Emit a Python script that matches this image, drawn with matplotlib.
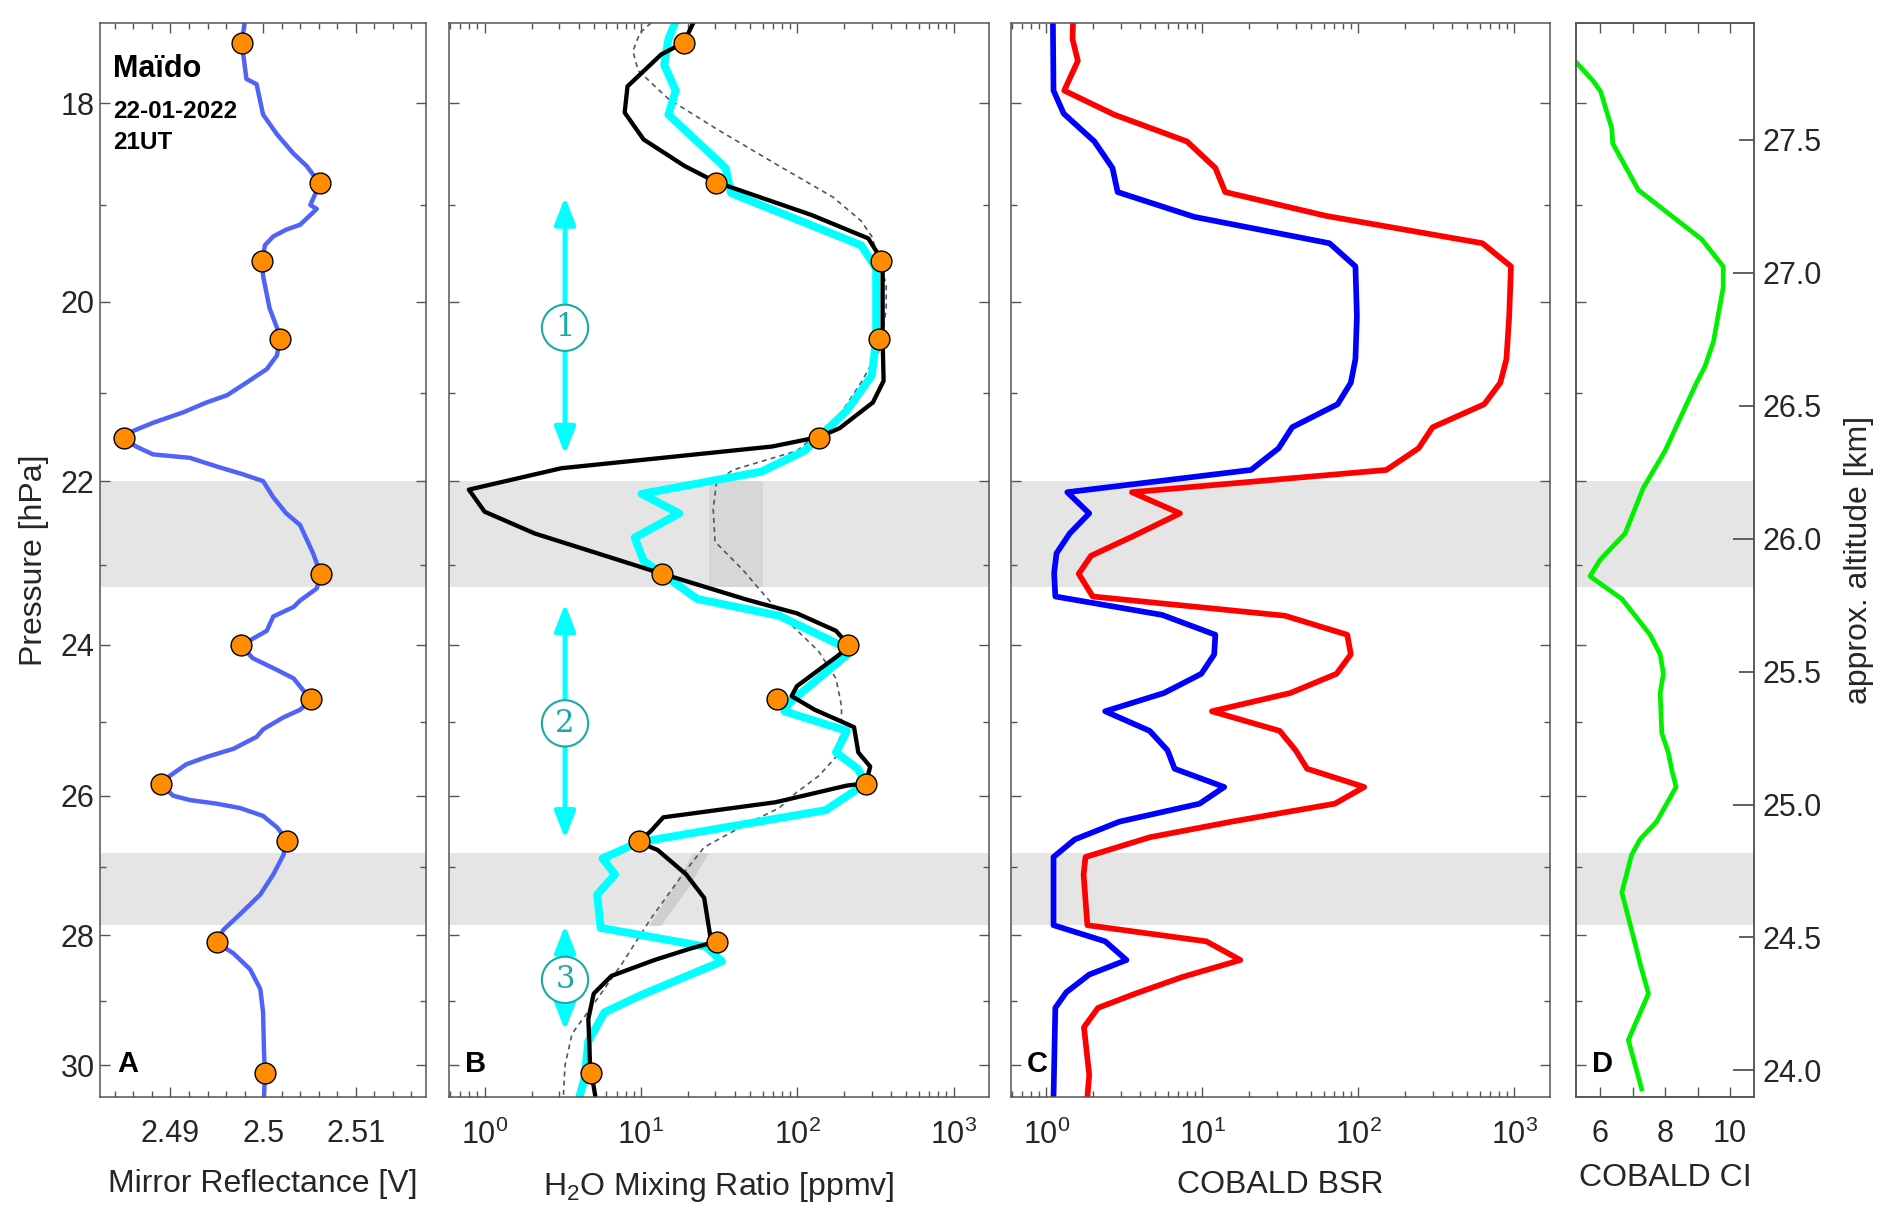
import matplotlib
matplotlib.use("Agg")
import matplotlib.pyplot as plt
from matplotlib.ticker import FixedLocator, NullFormatter, FormatStrFormatter, LogLocator, MultipleLocator, FuncFormatter

plt.rcParams['font.family'] = ['Liberation Sans', 'DejaVu Sans']
plt.rcParams['mathtext.fontset'] = 'custom'
plt.rcParams['mathtext.rm'] = 'Liberation Sans'

# pressure axis
p_major = [18, 20, 22, 24, 26, 28, 30]
p_minor = [19, 21, 23, 25, 27, 29]
bands = [(22.0, 23.27), (26.8, 27.85)]

# orange marker levels (same events in A and B)
mark_p = [17.43, 18.78, 19.57, 20.40, 21.50, 23.11, 24.00, 24.70, 25.84, 26.63, 28.10, 30.13]
mark_refl = [2.4977, 2.5061, 2.4999, 2.5018, 2.4850, 2.5062, 2.4976, 2.5052, 2.4890, 2.5026, 2.4950, 2.5002]
mark_h2o = [18.8, 30.2, 344, 334, 138.7, 13.7, 211, 74.6, 275, 9.71, 30.5, 4.78]

# panel A: mirror reflectance
refl_p = [17.25, 17.43, 17.77, 17.82, 18.11, 18.30, 18.49, 18.61, 18.72, 18.79, 19.00, 19.04, 19.20,
          19.25, 19.32, 19.41, 19.58, 19.73, 20.07, 20.28, 20.40, 20.58, 20.73, 20.88, 21.02, 21.10,
          21.21, 21.33, 21.42, 21.51, 21.60, 21.69, 21.73, 21.83, 21.92, 22.00, 22.19, 22.38, 22.52,
          22.86, 23.11, 23.29, 23.44, 23.52, 23.64, 23.82, 23.92, 24.01, 24.17, 24.32, 24.43, 24.58,
          24.70, 24.84, 24.94, 25.10, 25.20, 25.36, 25.47, 25.57, 25.73, 25.85, 26.00, 26.06, 26.11,
          26.17, 26.28, 26.44, 26.62, 26.83, 27.11, 27.40, 27.69, 27.92, 28.11, 28.27, 28.51, 28.81,
          29.17, 29.79, 30.14, 30.51]
refl_v = [2.4980, 2.4977, 2.4982, 2.4993, 2.5000, 2.5015, 2.5033, 2.5047, 2.5056, 2.5061, 2.5051, 2.5058, 2.5040,
          2.5025, 2.5011, 2.5002, 2.4999, 2.5000, 2.5007, 2.5015, 2.5018, 2.5015, 2.5004, 2.4982, 2.4961, 2.4939,
          2.4914, 2.4881, 2.4860, 2.4850, 2.4863, 2.4881, 2.4921, 2.4950, 2.4978, 2.5000, 2.5011, 2.5025, 2.5040,
          2.5054, 2.5062, 2.5058, 2.5040, 2.5033, 2.5011, 2.5004, 2.4989, 2.4976, 2.4989, 2.5015, 2.5033, 2.5043,
          2.5052, 2.5040, 2.5022, 2.5000, 2.4993, 2.4968, 2.4939, 2.4917, 2.4899, 2.4890, 2.4903, 2.4921, 2.4950,
          2.4975, 2.5000, 2.5015, 2.5026, 2.5022, 2.5011, 2.4997, 2.4975, 2.4957, 2.4950, 2.4968, 2.4986, 2.4997,
          2.5000, 2.5001, 2.5002, 2.5001]

# panel B: H2O mixing ratio
black_p = [17.20, 17.43, 17.54, 17.84, 18.09, 18.35, 18.61, 18.77, 19.10, 19.34, 19.47, 19.57, 20.41,
           20.86, 21.10, 21.39, 21.49, 21.60, 21.85, 22.10, 22.36, 22.62, 23.11, 23.43, 23.60, 23.82,
           23.99, 24.12, 24.53, 24.66, 24.84, 25.07, 25.41, 25.60, 25.83, 25.86, 26.09, 26.30, 26.49,
           26.65, 26.76, 27.11, 27.45, 28.04, 28.09, 28.20, 28.37, 28.61, 28.88, 29.27, 30.00, 30.51]
black_v = [22.5, 18.8, 13.5, 8.21, 7.87, 10.4, 19.0, 30.2, 122.9, 285, 320, 352, 352,
           357, 305, 187, 138.7, 68.9, 3.10, 0.793, 1.0, 2.09, 13.7, 47.7, 99.6, 177,
           211, 187, 99.6, 92, 129.5, 231, 246, 293, 275, 208, 72.7, 13.9, 11.6,
           9.71, 12.8, 19.5, 25.4, 27.9, 30.5, 20.6, 12.2, 6.48, 4.99, 4.61, 4.73, 5.12]
cyan_p = [17.25, 17.40, 17.64, 17.88, 18.11, 18.63, 18.88, 19.41, 19.65, 20.41, 20.80, 21.19, 21.49,
          21.65, 21.89, 22.15, 22.38, 22.67, 22.95, 23.11, 23.42, 23.63, 24.02, 24.09, 24.74, 24.86,
          25.12, 25.41, 25.63, 25.83, 26.20, 26.44, 26.65, 26.88, 27.11, 27.40, 27.89, 28.17, 28.39,
          28.91, 29.17, 29.62, 30.20, 30.51]
cyan_v = [16.5, 15.0, 14.1, 16.7, 15.0, 34.8, 37.7, 256, 320, 320, 300, 208, 138.7,
          111, 58.9, 10.1, 17.6, 9.12, 10.4, 13.7, 22.9, 76.6, 197, 219, 89.7, 82.8,
          208, 177, 244, 275, 152, 34.8, 9.7, 5.68, 6.83, 5.25, 5.53, 26.1, 33.0,
          9.87, 5.84, 4.61, 4.37, 4.04]
frost_p = [17.25, 17.34, 17.51, 17.69, 17.96, 18.26, 18.61, 18.92, 19.16, 19.32, 19.82, 20.07, 20.49,
           20.88, 21.24, 21.65, 21.87, 22.01, 22.33, 22.72, 23.07, 23.38, 23.77, 24.08, 24.43, 24.79,
           25.10, 25.47, 25.73, 25.95, 26.17, 26.39, 26.72, 27.11, 27.75, 28.42, 29.04, 29.50, 30.00, 30.51]
frost_v = [11.6, 9.87, 8.89, 9.6, 15.0, 31.4, 76.6, 169, 256, 300, 371, 371, 343,
           256, 187, 99.6, 38.7, 30.5, 29.0, 29.8, 45.3, 62.1, 94.6, 137, 177, 192,
           192, 177, 137, 99.6, 76.6, 47.7, 25.4, 18.5, 11.6, 7.59, 4.99, 3.63, 3.27, 3.19]
unc1_x = [27.4, 60.5]
unc2_p = [26.8, 27.3, 27.85]
unc2_lo = [21.5, 16.0, 11.2]
unc2_hi = [27.0, 20.0, 13.4]
arrow_x = 3.27
arrow_spans = [(18.92, 21.69), (23.48, 26.60), (27.85, 29.45)]
arrow_tags = ['1', '2', '3']
arrow_tag_p = [20.28, 25.02, 28.67]

# panel C: COBALD backscatter ratio
bsr_blue_p = [17.25, 17.88, 18.10, 18.37, 18.63, 18.87, 19.12, 19.39, 19.63, 20.16, 20.62, 20.88, 21.12,
              21.38, 21.62, 21.87, 22.13, 22.38, 22.62, 22.86, 23.10, 23.39, 23.62, 23.87, 24.12, 24.37,
              24.62, 24.86, 25.12, 25.38, 25.63, 25.88, 26.11, 26.36, 26.61, 26.86, 27.85, 28.09, 28.37,
              28.59, 28.86, 29.10, 30.51]
bsr_blue_v = [1.10, 1.11, 1.29, 2.03, 2.65, 2.86, 8.85, 65.3, 95.7, 97.8, 95.7, 89.4, 73.6,
              37.6, 30.8, 20.5, 1.36, 1.88, 1.41, 1.16, 1.12, 1.14, 5.52, 12.1, 11.9, 9.84,
              5.67, 2.38, 4.59, 5.97, 6.63, 13.8, 9.58, 2.94, 1.52, 1.11, 1.11, 2.38, 3.26,
              1.88, 1.34, 1.14, 1.11]
bsr_red_p = [17.25, 17.40, 17.60, 17.88, 18.11, 18.37, 18.63, 18.87, 19.11, 19.39, 19.63, 20.16, 20.62,
             20.88, 21.12, 21.38, 21.62, 21.87, 22.13, 22.38, 22.65, 22.89, 23.11, 23.39, 23.63, 23.87,
             24.12, 24.37, 24.62, 24.86, 25.12, 25.38, 25.63, 25.88, 26.11, 26.36, 26.58, 26.86, 27.11,
             27.85, 28.09, 28.37, 28.63, 28.88, 29.10, 29.40, 30.15, 30.51]
bsr_red_v = [1.48, 1.47, 1.59, 1.30, 2.72, 7.97, 12.1, 14.0, 61.9, 624, 951, 926, 889,
             813, 641, 299, 243, 151, 3.53, 7.18, 3.62, 1.93, 1.61, 1.98, 33.8, 84.8,
             89.4, 72.4, 36.6, 11.5, 31.3, 39.6, 46.9, 109, 70.6, 15.4, 4.59, 1.78, 1.73,
             1.83, 10.6, 17.5, 7.36, 3.72, 2.14, 1.74, 1.88, 1.83]

# panel D: colour index
ci_p = [17.62, 17.79, 17.89, 18.14, 18.24, 18.39, 18.85, 19.35, 19.63, 19.85, 20.43, 20.70, 20.88,
        21.65, 22.08, 22.62, 22.94, 23.14, 23.42, 23.63, 23.87, 24.12, 24.37, 24.62, 25.15, 25.41,
        25.65, 25.88, 26.36, 26.61, 26.83, 27.37, 27.92, 28.42, 28.88, 29.60, 30.38]
ci_v = [5.28, 5.79, 6.02, 6.26, 6.36, 6.39, 7.18, 9.13, 9.79, 9.79, 9.49, 9.23, 8.97,
        8.0, 7.33, 6.77, 6.0, 5.69, 6.67, 7.08, 7.54, 7.85, 7.95, 7.85, 7.90, 8.10,
        8.21, 8.34, 7.74, 7.23, 6.97, 6.67, 6.97, 7.23, 7.49, 6.87, 7.28]

SPINE = '#555555'
TXT = '#262626'
TEAL = '#1ba8a8'
LBL = 23

fig = plt.figure(figsize=(18.92, 12.17), dpi=100)
bot, h = 0.0986, 0.8825
ax_a = fig.add_axes([0.0529, bot, 0.1723, h])
ax_b = fig.add_axes([0.2372, bot, 0.2856, h])
ax_c = fig.add_axes([0.5342, bot, 0.2850, h])
ax_d = fig.add_axes([0.8330, bot, 0.0941, h])


def style_panel(ax, ylabels):
    ax.set_yscale('log')
    ax.set_ylim(30.51, 17.25)
    ax.yaxis.set_major_locator(FixedLocator(p_major))
    ax.yaxis.set_minor_locator(FixedLocator(p_minor))
    ax.yaxis.set_major_formatter(FormatStrFormatter('%d'))
    ax.yaxis.set_minor_formatter(NullFormatter())
    for lo, hi in bands:
        ax.axhspan(lo, hi, color='#e5e5e5', lw=0, zorder=0)
    for s in ax.spines.values():
        s.set_color(SPINE)
        s.set_linewidth(1.1)
    ax.tick_params(which='both', direction='in', top=True, right=True, colors=SPINE,
                   labelcolor=TXT, labelsize=22, width=1.0)
    ax.tick_params(which='major', length=7)
    ax.tick_params(which='minor', length=4)
    ax.tick_params(axis='x', pad=16)
    ax.tick_params(axis='y', pad=4, labelleft=ylabels)


for ax in (ax_a, ax_b, ax_c, ax_d):
    style_panel(ax, ax is ax_a)

# A
ax_a.plot(refl_v, refl_p, color='#4f63f7', lw=3.2, zorder=2)
ax_a.plot(mark_refl, mark_p, 'o', ms=15, mfc='#ff8c00', mec='black', mew=1, zorder=3)
ax_a.set_xlim(2.4824, 2.5176)
ax_a.xaxis.set_major_locator(FixedLocator([2.49, 2.50, 2.51]))
ax_a.xaxis.set_minor_locator(MultipleLocator(0.002))
ax_a.xaxis.set_major_formatter(FuncFormatter(lambda x, pos: f'{x:g}'))
ax_a.set_xlabel('Mirror Reflectance [V]', fontsize=LBL, color=TXT, labelpad=14)
ax_a.set_ylabel('Pressure [hPa]', fontsize=LBL, color=TXT, labelpad=8)
ax_a.text(0.04, 0.957, 'Maïdo', transform=ax_a.transAxes, fontsize=22, fontweight='bold', va='center')
ax_a.text(0.04, 0.918, '22-01-2022', transform=ax_a.transAxes, fontsize=17.5, fontweight='bold', va='center')
ax_a.text(0.04, 0.889, '21UT', transform=ax_a.transAxes, fontsize=17.5, fontweight='bold', va='center')

# B
ax_b.set_xscale('log')
ax_b.fill_betweenx(bands[0], unc1_x[0], unc1_x[1], color='#d7d7d7', lw=0, zorder=0.5)
ax_b.fill_betweenx(unc2_p, unc2_lo, unc2_hi, color='#cfcfcf', lw=0, zorder=0.5)
ax_b.plot(frost_v, frost_p, color='#4a5a6a', lw=1.2, ls=(0, (3, 2.5)), zorder=1.5)
ax_b.plot(cyan_v, cyan_p, color='#00ffff', lw=5.7, zorder=2)
ax_b.plot(black_v, black_p, color='black', lw=3.1, zorder=2.5)
ax_b.plot(mark_h2o, mark_p, 'o', ms=15, mfc='#ff8c00', mec='black', mew=1, zorder=3)
for (p0, p1), tag, pt in zip(arrow_spans, arrow_tags, arrow_tag_p):
    ax_b.annotate('', xy=(arrow_x, p1), xytext=(arrow_x, p0),
                  arrowprops=dict(arrowstyle='<|-|>,head_length=0.9,head_width=0.35', color='#00ffff',
                                  lw=3.5, shrinkA=0, shrinkB=0, mutation_scale=18), zorder=3)
    ax_b.text(arrow_x, pt, tag, ha='center', va='center', fontsize=22, color=TEAL, family='DejaVu Serif',
              bbox=dict(boxstyle='circle,pad=0.25', fc='white', ec=TEAL, lw=1.5), zorder=4)
ax_b.set_xlabel('H$_2$O Mixing Ratio [ppmv]', fontsize=LBL, color=TXT, labelpad=14)

# C
ax_c.set_xscale('log')
ax_c.plot(bsr_red_v, bsr_red_p, color='#ff0000', lw=4.1, zorder=2)
ax_c.plot(bsr_blue_v, bsr_blue_p, color='#0000ff', lw=4.1, zorder=2.5)
ax_c.set_xlabel('COBALD BSR', fontsize=LBL, color=TXT, labelpad=14)

for ax in (ax_b, ax_c):
    ax.set_xlim(0.59, 1690)
    ax.xaxis.set_major_locator(LogLocator(base=10))
    ax.xaxis.set_minor_locator(LogLocator(base=10, subs=range(2, 10)))
    ax.xaxis.set_minor_formatter(NullFormatter())

# D
ax_d.plot(ci_v, ci_p, color='#00f000', lw=3.4, zorder=2)
ax_d.set_xlim(5.26, 10.74)
ax_d.xaxis.set_major_locator(FixedLocator([6, 8, 10]))
ax_d.xaxis.set_minor_locator(FixedLocator([7, 9]))
ax_d.tick_params(axis='y', right=False)
ax_d.tick_params(axis='x', which='minor', length=7)
ax_d.set_xlabel('COBALD CI', fontsize=LBL, color=TXT, labelpad=10)

ax_alt = ax_d.twinx()
ax_alt.set_ylim(23.90, 27.94)
ax_alt.yaxis.set_major_locator(MultipleLocator(1.0))
ax_alt.yaxis.set_minor_locator(FixedLocator([24.5, 25.5, 26.5, 27.5]))
ax_alt.yaxis.set_major_formatter(FormatStrFormatter('%.1f'))
ax_alt.yaxis.set_minor_formatter(FormatStrFormatter('%.1f'))
ax_alt.tick_params(which='both', direction='in', colors=SPINE, labelcolor=TXT, labelsize=22, pad=6, width=1.3)
ax_alt.tick_params(which='major', length=15)
ax_alt.tick_params(which='minor', length=11)
for s in ax_alt.spines.values():
    s.set_color(SPINE)
    s.set_linewidth(1.1)
ax_alt.set_ylabel('approx. altitude [km]', fontsize=LBL, color=TXT, labelpad=16)

for ax, letter, xpos in ((ax_a, 'A', 0.052), (ax_b, 'B', 0.030), (ax_c, 'C', 0.030), (ax_d, 'D', 0.09)):
    ax.text(xpos, 0.031, letter, transform=ax.transAxes, fontsize=21, fontweight='bold', va='center', zorder=5)

fig.savefig('out.png', dpi=100)
